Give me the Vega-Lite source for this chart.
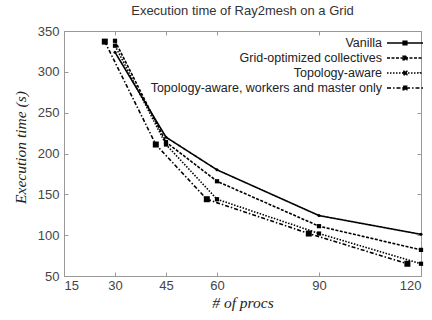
{
  "$schema": "https://vega.github.io/schema/vega-lite/v6.json",
  "width": 357,
  "height": 245,
  "autosize": {"type": "none"},
  "padding": {"left": 64, "top": 31, "right": 11, "bottom": 44},
  "background": "white",
  "title": {
    "text": "Execution time of Ray2mesh on a Grid",
    "font": "Liberation Sans",
    "fontSize": 13,
    "fontWeight": "normal",
    "color": "#333",
    "offset": 7,
    "anchor": "middle"
  },
  "config": {
    "view": {"stroke": "#999", "strokeWidth": 1},
    "axis": {
      "domainColor": "#999",
      "tickColor": "#999",
      "grid": false,
      "labelFont": "Liberation Sans",
      "labelFontSize": 13,
      "labelColor": "#444",
      "titleFont": "Liberation Serif",
      "titleFontStyle": "italic",
      "titleFontWeight": "normal",
      "titleFontSize": 15.5,
      "titleColor": "#222"
    }
  },
  "resolve": {"axis": {"x": "independent", "y": "independent"}},
  "data": {
    "values": [
      {"series": "Vanilla", "procs": 30, "time": 324},
      {"series": "Vanilla", "procs": 45, "time": 220},
      {"series": "Vanilla", "procs": 60, "time": 180},
      {"series": "Vanilla", "procs": 90, "time": 124},
      {"series": "Vanilla", "procs": 120, "time": 101},
      {"series": "Grid-optimized collectives", "procs": 30, "time": 338},
      {"series": "Grid-optimized collectives", "procs": 45, "time": 214},
      {"series": "Grid-optimized collectives", "procs": 60, "time": 166},
      {"series": "Grid-optimized collectives", "procs": 90, "time": 111},
      {"series": "Grid-optimized collectives", "procs": 120, "time": 82},
      {"series": "Topology-aware", "procs": 30, "time": 332},
      {"series": "Topology-aware", "procs": 45, "time": 211},
      {"series": "Topology-aware", "procs": 60, "time": 144},
      {"series": "Topology-aware", "procs": 90, "time": 102},
      {"series": "Topology-aware", "procs": 120, "time": 65},
      {"series": "Topology-aware, workers and master only", "procs": 27, "time": 337},
      {"series": "Topology-aware, workers and master only", "procs": 42, "time": 211},
      {"series": "Topology-aware, workers and master only", "procs": 57, "time": 144},
      {"series": "Topology-aware, workers and master only", "procs": 87, "time": 102},
      {"series": "Topology-aware, workers and master only", "procs": 116, "time": 65}
    ]
  },
  "layer": [
    {
      "mark": {"type": "line", "color": "black", "strokeWidth": 1.6},
      "encoding": {
        "x": {
          "field": "procs", "type": "quantitative",
          "scale": {"domain": [15, 120], "nice": false, "zero": false},
          "axis": {"values": [15, 30, 45, 60, 90, 120], "title": "# of procs", "tickSize": -4, "labelPadding": 7, "titlePadding": 3}
        },
        "y": {
          "field": "time", "type": "quantitative",
          "scale": {"domain": [50, 350], "nice": false, "zero": false},
          "axis": {"values": [50, 100, 150, 200, 250, 300, 350], "title": "Execution time (s)", "tickSize": -4, "labelPadding": 9, "titlePadding": 9, "titleY": 116}
        },
        "strokeDash": {
          "field": "series", "type": "nominal",
          "scale": {
            "domain": ["Vanilla", "Grid-optimized collectives", "Topology-aware", "Topology-aware, workers and master only"],
            "range": [[1, 0], [3, 1.5], [1.5, 1.5], [4, 2, 1.5, 2]]
          },
          "legend": {
            "title": null,
            "orient": "none",
            "legendX": 334,
            "legendY": 5,
            "padding": 0,
            "symbolType": "M-3,0H3M-0.3,-0.3H0.3V0.3H-0.3Z",
            "symbolSize": 144,
            "symbolStrokeColor": "black",
            "symbolFillColor": "black",
            "symbolStrokeWidth": 1.6,
            "labelAlign": "right",
            "labelOffset": -30,
            "labelFont": "Liberation Sans",
            "labelFontSize": 12.5,
            "labelColor": "#222",
            "rowPadding": 1,
            "labelLimit": 400
          }
        }
      }
    },
    {
      "transform": [{"filter": "datum.series === 'Vanilla'"}],
      "mark": {"type": "point", "shape": "circle", "filled": true, "color": "black", "opacity": 1, "size": 9},
      "encoding": {
        "x": {"field": "procs", "type": "quantitative", "axis": {"orient": "top", "values": [15, 30, 45, 60, 90, 120], "labels": false, "title": null, "tickSize": -4}},
        "y": {"field": "time", "type": "quantitative", "axis": {"orient": "right", "values": [50, 100, 150, 200, 250, 300, 350], "labels": false, "title": null, "tickSize": -4}}
      }
    },
    {
      "transform": [{"filter": "datum.series === 'Grid-optimized collectives' || datum.series === 'Topology-aware'"}],
      "mark": {"type": "point", "shape": "square", "filled": true, "color": "black", "opacity": 1, "size": 18},
      "encoding": {
        "x": {"field": "procs", "type": "quantitative", "axis": null},
        "y": {"field": "time", "type": "quantitative", "axis": null}
      }
    },
    {
      "transform": [{"filter": "datum.series === 'Topology-aware, workers and master only'"}],
      "mark": {"type": "point", "shape": "square", "filled": true, "color": "black", "opacity": 1, "size": 36},
      "encoding": {
        "x": {"field": "procs", "type": "quantitative", "axis": null},
        "y": {"field": "time", "type": "quantitative", "axis": null}
      }
    }
  ]
}
